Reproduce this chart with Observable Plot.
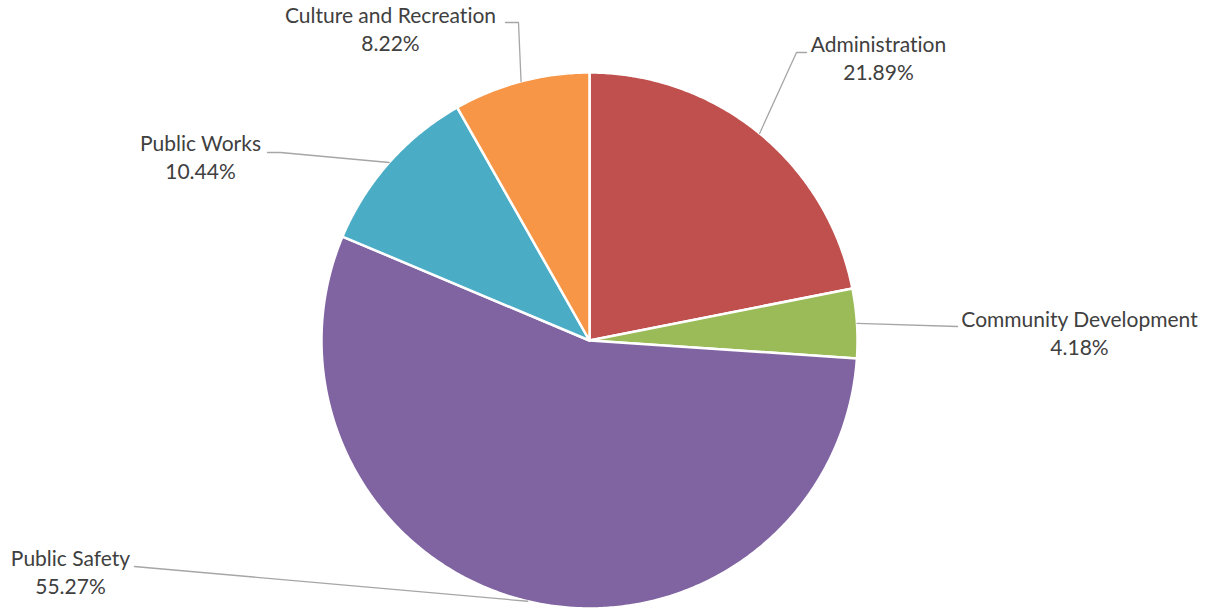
<!DOCTYPE html>
<html>
<head>
<meta charset="utf-8">
<script src="https://cdn.jsdelivr.net/npm/d3@7"></script>
<script src="https://cdn.jsdelivr.net/npm/@observablehq/plot@0.6"></script>
<style>
  html, body { margin: 0; padding: 0; background: #fff; }
  #chart svg { display: block; }
  #chart text { font-variant-ligatures: none; }
</style>
</head>
<body>
<div id="chart"></div>
<script>
// ---- data ----
const categories = ["Administration", "Community Development", "Public Safety", "Public Works", "Culture and Recreation"];
const shares = [21.89, 4.18, 55.27, 10.44, 8.22];
const colors = ["#C0504D", "#9BBB59", "#8064A2", "#4BACC6", "#F79646"];

// ---- layout (pixel offsets from pie centre) ----
const W = 1213, H = 610;
const cx = 589, cy = 340, R = 268;
const labelPos = [[289, -283], [490, -8], [-519, 231], [-389, -184], [-199, -312]];
const elbowPos = [[207, -288], [368, -14], [-444, 227], [-309, -188], [-71, -318]];
const endPos   = [[217, -288], [368, -14], [-455, 226], [-322, -188], [-84, -318]];

const rows = categories.map((c, i) => ({category: c, share: shares[i], i}));
const arcs = d3.pie().sort(null).value(d => d.share)(rows);

const pt = (a, r) => [r * Math.sin(a), -r * Math.cos(a)];

const features = arcs.map(a => {
  const ring = [[0, 0]];
  const n = Math.max(2, Math.ceil((a.endAngle - a.startAngle) / (Math.PI / 360)));
  for (let k = 0; k <= n; k++) ring.push(pt(a.startAngle + (a.endAngle - a.startAngle) * k / n, R));
  ring.push([0, 0]);
  return {type: "Feature", properties: {category: a.data.category}, geometry: {type: "Polygon", coordinates: [ring]}};
});

const leaders = [];
arcs.forEach(a => {
  const mid = (a.startAngle + a.endAngle) / 2;
  const i = a.data.i;
  leaders.push({k: i, p: pt(mid, R)});
  leaders.push({k: i, p: elbowPos[i]});
  leaders.push({k: i, p: endPos[i]});
});

const labels = rows.map(d => ({text: `${d.category}\n${d.share.toFixed(2)}%`, p: labelPos[d.i]}));

// domain: whole canvas in centre-relative pixel coordinates
const domain = {type: "Polygon", coordinates: [[[-cx, -cy], [W - cx, -cy], [W - cx, H - cy], [-cx, H - cy], [-cx, -cy]]]};

const chart = Plot.plot({
  width: W,
  height: H,
  margin: 0,
  projection: {type: "identity", domain, inset: 0},
  color: {type: "ordinal", domain: categories, range: colors},
  style: {fontFamily: "Lato, sans-serif", background: "#fff"},
  marks: [
    Plot.geo(features, {fill: d => d.properties.category, stroke: "white", strokeWidth: 2.5}),
    Plot.line(leaders, {x: d => d.p[0], y: d => d.p[1], z: "k", stroke: "#a6a6a6", strokeWidth: 1.3}),
    Plot.text(labels, {x: d => d.p[0], y: d => d.p[1], text: "text", fontSize: 21, lineHeight: 1.33, fill: "#404040"})
  ]
});
document.getElementById("chart").appendChild(chart);
</script>
</body>
</html>
